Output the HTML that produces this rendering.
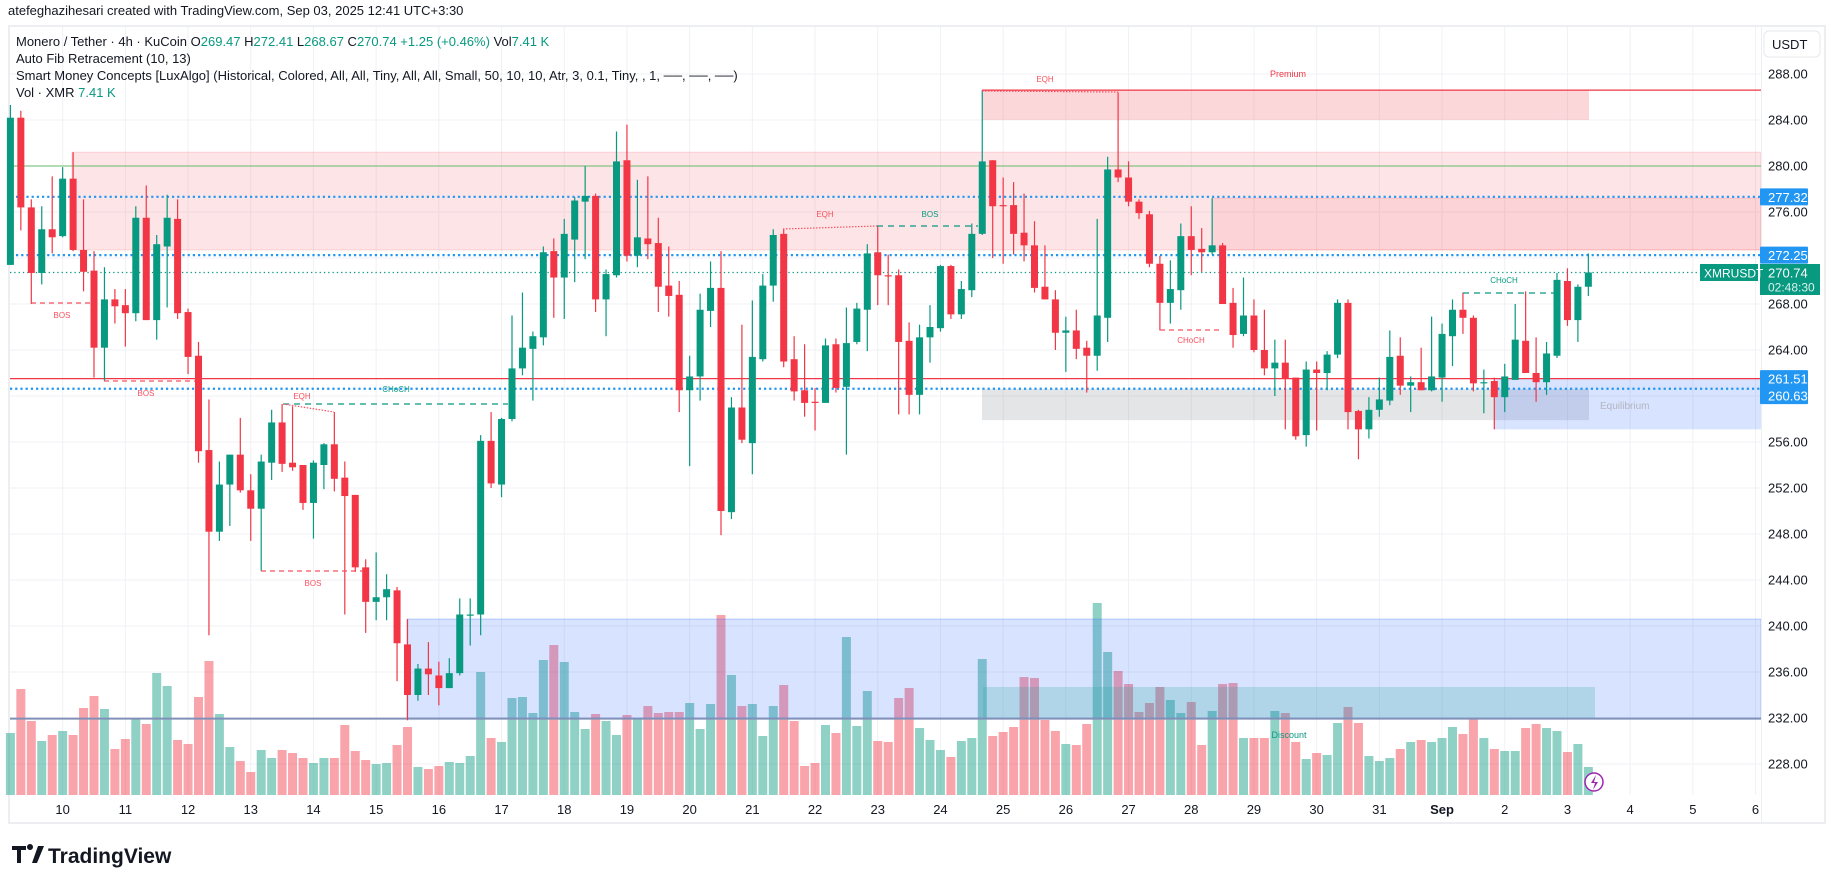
<!DOCTYPE html>
<html><head><meta charset="utf-8"><title>XMRUSDT 4h</title>
<style>
html,body{margin:0;padding:0;background:#fff;}
body{width:1835px;height:883px;overflow:hidden;font-family:"Liberation Sans",sans-serif;}
svg{display:block}
</style></head>
<body>
<svg id="chart" width="1835" height="883" viewBox="0 0 1835 883" xmlns="http://www.w3.org/2000/svg" font-family="Liberation Sans, sans-serif">
  <rect x="0" y="0" width="1835" height="883" fill="#ffffff"/>
  <text x="8" y="15" font-size="13" fill="#131722">atefeghazihesari created with TradingView.com, Sep 03, 2025 12:41 UTC+3:30</text>
  <rect x="9" y="26" width="1816" height="797" fill="none" stroke="#eceef2" stroke-width="2"/>
  <g id="grid"></g>
  <g id="zones"></g>
  <g id="vol"></g>
  <g id="zones2"></g>
  <g id="lines"></g>
  <g id="candles"></g>
  <g id="smc"></g>
  <g id="axes"></g>
  <g font-size="13">
    <text x="16" y="46" fill="#131722">Monero / Tether · 4h · KuCoin <tspan fill="#131722">O</tspan><tspan fill="#089981">269.47</tspan> <tspan fill="#131722">H</tspan><tspan fill="#089981">272.41</tspan> <tspan fill="#131722">L</tspan><tspan fill="#089981">268.67</tspan> <tspan fill="#131722">C</tspan><tspan fill="#089981">270.74 +1.25 (+0.46%)</tspan> <tspan fill="#131722">Vol</tspan><tspan fill="#089981">7.41 K</tspan></text>
    <text x="16" y="63" fill="#131722">Auto Fib Retracement (10, 13)</text>
    <text x="16" y="80" fill="#131722">Smart Money Concepts [LuxAlgo] (Historical, Colored, All, All, Tiny, All, All, Small, 50, 10, 10, Atr, 3, 0.1, Tiny, , 1, ──, ──, ──)</text>
    <text x="16" y="97" fill="#131722">Vol · XMR <tspan fill="#089981">7.41 K</tspan></text>
  </g>
  <g>
    <path d="M12 846 h14 v4 h-5 v13 h-4 v-13 h-5z M30 850 a3 3 0 1 1 0.01 0z M38 846 h6 l-7 17 h-5z" fill="#131722"/>
    <text x="48" y="863" font-size="21" font-weight="bold" fill="#131722">TradingView</text>
  </g>
</svg>
<script>
const opens=[271.4,284.2,276.4,270.7,274.5,273.9,278.9,272.7,270.9,264.2,268.4,267.9,267.2,275.5,266.6,273.0,275.4,267.3,263.5,255.3,248.2,252.3,254.9,251.8,250.2,254.2,257.7,254.2,254.0,250.7,254.0,255.8,252.9,251.4,245.1,242.1,242.5,243.1,238.4,234.0,236.3,235.7,234.6,235.9,240.9,241.0,256.1,252.3,258.0,262.4,264.1,265.1,272.6,270.3,273.6,276.9,277.4,268.4,270.5,280.5,272.2,273.7,273.3,269.6,268.8,260.5,261.7,267.4,269.4,249.9,259.0,255.9,263.2,269.6,274.1,263.2,260.5,259.5,259.4,264.5,260.8,264.7,267.5,272.5,270.5,270.5,264.8,260.1,265.1,265.9,271.3,267.1,269.2,274.1,280.5,276.6,276.6,274.2,273.1,269.5,268.4,265.5,265.7,264.2,263.5,266.8,279.7,279.0,276.9,275.8,271.5,268.1,269.2,273.9,272.8,272.5,273.1,268.1,265.4,267.0,264.0,262.4,262.9,261.6,256.6,262.3,262.0,263.6,268.1,258.7,257.1,258.8,259.6,263.5,260.9,261.2,260.5,261.6,265.2,267.5,266.8,261.1,261.3,259.9,261.4,264.8,262.0,261.2,263.5,270.0,266.6,269.5];
const highs=[285.3,284.8,277.1,276.5,279.1,279.9,281.2,277.1,272.6,271.2,269.3,269.3,276.5,278.3,274.0,277.5,277.1,267.6,264.7,259.7,254.3,254.9,258.1,253.2,254.9,258.8,259.3,259.1,254.0,254.4,255.9,258.6,254.3,251.4,245.8,246.4,244.5,243.4,240.6,236.7,238.6,236.9,237.2,242.4,242.4,256.6,258.6,258.1,267.0,269.0,265.6,273.0,273.7,275.4,277.3,280.0,277.6,271.0,283.0,283.6,278.8,279.1,275.5,273.0,270.0,263.5,268.9,271.7,272.6,259.9,266.2,268.3,270.6,274.5,274.5,265.2,264.5,260.7,265.0,265.0,267.7,268.1,273.2,274.8,272.3,271.0,266.4,266.2,267.9,271.4,271.4,270.0,275.0,286.6,280.5,279.0,278.6,277.6,275.2,273.1,269.2,266.9,267.5,264.8,275.4,280.8,286.4,280.4,277.1,276.1,272.2,271.8,275.0,276.5,274.6,277.2,273.3,269.4,270.3,268.4,267.5,264.9,264.9,261.6,263.0,263.0,263.9,268.4,268.4,258.8,259.9,261.6,265.7,265.1,261.7,264.2,266.9,266.3,268.4,269.0,267.0,262.3,261.6,262.8,268.0,269.1,265.1,264.7,270.7,271.1,269.7,272.4];
const lows=[271.4,274.4,268.0,269.7,272.4,273.8,272.6,269.1,261.6,261.3,266.3,264.3,266.5,266.6,264.9,267.7,266.7,261.9,254.2,239.2,247.4,248.7,251.6,247.4,244.8,252.7,253.4,253.5,250.1,247.6,251.9,251.7,241.0,244.7,239.4,240.5,240.5,235.2,231.8,233.5,234.0,233.1,234.6,235.7,238.3,239.2,252.0,251.2,257.8,261.8,259.6,264.4,266.8,266.7,269.9,271.9,267.3,265.2,270.3,271.7,271.2,271.9,267.3,266.9,258.6,253.9,259.6,266.0,247.9,249.3,255.9,253.2,263.0,268.2,262.5,259.6,258.2,257.0,259.4,260.3,254.9,264.5,263.9,267.9,267.9,258.4,258.4,258.4,262.9,265.6,266.7,266.7,268.6,274.0,272.0,271.5,272.3,271.7,269.0,268.4,264.0,262.1,263.2,260.3,262.2,264.7,278.6,276.5,275.4,271.2,265.7,266.3,267.5,270.5,270.8,272.3,268.0,264.2,265.2,263.8,261.8,260.0,257.1,256.2,255.6,257.0,260.5,263.3,257.1,254.5,256.3,258.2,259.2,260.1,258.6,260.5,260.4,259.5,262.6,265.4,260.4,258.5,257.1,258.6,261.4,262.0,259.5,260.1,263.3,266.1,264.7,268.7];
const closes=[284.2,276.4,270.7,274.5,273.8,278.9,272.7,270.8,264.2,268.4,267.8,267.2,275.5,266.6,273.2,275.5,267.2,263.4,255.2,248.2,252.3,254.9,251.8,250.2,254.3,257.7,254.1,253.8,250.7,254.2,255.8,252.8,251.3,245.1,242.1,242.5,243.2,238.5,234.0,236.3,235.8,234.6,235.9,241.0,241.0,256.1,252.4,258.0,262.4,264.2,265.2,272.5,270.3,274.1,277.0,277.4,268.4,270.6,280.4,272.2,273.8,273.2,269.5,268.7,260.5,261.7,267.5,269.4,250.0,259.0,256.2,263.4,269.6,274.0,263.0,260.4,259.4,259.4,264.4,260.7,264.6,267.6,272.4,270.5,270.4,264.7,260.1,265.1,266.0,271.3,267.1,269.3,274.1,280.4,276.5,276.5,274.1,273.1,269.4,268.4,265.5,265.7,264.1,263.5,267.0,279.7,279.0,276.9,275.9,271.5,268.1,269.3,273.9,272.7,272.5,273.1,268.0,265.3,267.0,264.0,262.4,262.9,261.5,256.5,262.3,262.0,263.6,268.1,258.6,257.1,258.8,259.7,263.4,260.9,261.2,260.5,261.7,265.4,267.5,266.8,261.1,261.2,259.9,261.7,264.9,262.0,261.2,263.7,270.1,266.6,269.5,270.74];
const volumes=[62,106,74,54,60,64,60,87,99,86,46,56,76,71,122,109,55,51,98,134,81,48,34,23,45,37,45,42,37,32,37,37,70,44,35,31,32,50,68,28,26,29,33,32,39,123,57,53,97,98,82,135,150,133,83,66,81,74,60,80,76,89,82,83,83,92,66,91,180,120,89,91,59,89,110,74,29,32,70,62,158,69,104,54,53,97,107,67,55,45,38,54,57,136,59,63,68,118,117,75,64,51,50,71,192,143,124,111,83,92,108,95,82,93,50,84,111,112,57,57,57,84,82,53,36,42,40,72,88,72,39,34,37,46,53,55,53,57,68,61,76,57,46,44,44,67,71,67,64,43,51,28];
const priceTicks=[288,284,280,276,272,268,264,260,256,252,248,244,240,236,232,228];
const dayLabels=['10','11','12','13','14','15','16','17','18','19','20','21','22','23','24','25','26','27','28','29','30','31','Sep','2','3','4','5','6'];
const markedPrices=[277.32,272.25,261.51,260.63];
const lastPrice=270.74;

const NS='http://www.w3.org/2000/svg';
const PANE_L=10, PANE_R=1761, PANE_T=27, PANE_B=822, VOL_BASE=795;
const xOf=i=>10.4+10.45*i;
const yOf=p=>74+(288-p)*11.5;
const vOf=v=>VOL_BASE-v*1.0;
function mk(parent,tag,attrs,text){const e=document.createElementNS(NS,tag);for(const k in attrs)e.setAttribute(k,attrs[k]);if(text!==undefined)e.textContent=text;document.getElementById(parent).appendChild(e);return e;}

// grid
priceTicks.forEach(p=>{
  const l=mk('grid','line',{x1:PANE_L,x2:PANE_R,y1:yOf(p),y2:yOf(p),stroke:'#f0f1f4','stroke-width':1});
  
  
});
dayLabels.forEach((d,k)=>{
  const x=xOf(5+6*k);
  const l=mk('grid','line',{x1:x,x2:x,y1:PANE_T,y2:VOL_BASE,stroke:'#f0f1f4','stroke-width':1});
  
  
});

// zones (behind volume)
function zone(g,name,x1,p1,x2,p2,fill,stroke){
  const y1=yOf(p1),y2=yOf(p2);
  const r=mk(g,'rect',{x:x1,y:Math.min(y1,y2),width:x2-x1,height:Math.abs(y2-y1),fill:fill});
  if(stroke){r.setAttribute('stroke',stroke);r.setAttribute('stroke-width','1');}
  
  
  return r;
}
zone('zones','supply-zone',72,281.2,PANE_R,272.7,'rgba(242,54,69,0.13)','rgba(242,54,69,0.18)');
zone('zones','supply-zone-inner',1212,277.2,PANE_R,272.7,'rgba(242,54,69,0.10)','rgba(242,54,69,0.15)');
zone('zones','premium-zone',982,286.6,1589,284.0,'rgba(242,54,69,0.20)');
zone('zones','equilibrium-zone',982,260.6,1589,257.9,'rgba(120,123,134,0.2)');
zone('zones','equilibrium-blue-zone',1494,261.51,PANE_R,257.1,'rgba(41,98,255,0.18)');

// volume bars
volumes.forEach((v,i)=>{
  const up=closes[i]>=opens[i];
  const b=mk('vol','rect',{x:xOf(i)-4.5,y:vOf(v),width:9,height:VOL_BASE-vOf(v),fill:up?'rgba(8,153,129,0.45)':'rgba(242,54,69,0.45)'});
  
  
});

// discount zones over volume
zone('zones2','discount-zone',407,240.6,PANE_R,232.0,'rgba(41,98,255,0.18)','rgba(41,98,255,0.3)');
zone('zones2','discount-inner-zone',983,234.7,1595,232.0,'rgba(38,166,154,0.22)');
{const l=mk('zones2','line',{x1:PANE_L,x2:PANE_R,y1:yOf(231.95),y2:yOf(231.95),stroke:'#8190b8','stroke-width':2});

}

// level lines
function hline(name,p,x1,stroke,w,dash){
  const l=mk('lines','line',{x1:x1,x2:PANE_R,y1:yOf(p),y2:yOf(p),stroke:stroke,'stroke-width':w});
  if(dash)l.setAttribute('stroke-dasharray',dash);
  
  
}
hline('fib-level-280',280,13,'#66bb6a',1);
hline('level-277-32',markedPrices[0],16,'#2196f3',2.2,'2.2 3');
hline('level-272-25',markedPrices[1],16,'#2196f3',2.2,'2.2 3');
hline('last-price-line',lastPrice,10,'#089981',1.3,'1.3 3');
hline('level-261-51',markedPrices[2],10,'#f23645',1.3);
hline('level-260-63',markedPrices[3],10,'#2196f3',2.2,'2.2 3');
hline('premium-top-line',286.6,982,'#f23645',1.3);

// candles
opens.forEach((o,i)=>{
  const c=closes[i],up=c>=o,col=up?'#089981':'#f23645',x=xOf(i);
  const w=mk('candles','line',{x1:x,x2:x,y1:yOf(highs[i]),y2:yOf(lows[i]),stroke:col,'stroke-width':1.2});
  
  
  const top=yOf(Math.max(o,c)),bot=yOf(Math.min(o,c));
  const b=mk('candles','rect',{x:x-3.5,y:top,width:7,height:Math.max(1.2,bot-top),fill:col});
  
  
});

// structure labels
function seg(name,x1,y1,x2,y2,col,dash){
  const l=mk('smc','line',{x1:x1,y1:y1,x2:x2,y2:y2,stroke:col,'stroke-width':1.2,'stroke-dasharray':dash});
  
  
}
function lab(name,x,y,t,col){
  const e=mk('smc','text',{x:x,y:y,'font-size':8,fill:col,'text-anchor':'middle'},t);
  
  
}
const RD='#f7525f',TL='#089981';
seg('bos-line-1',31,303,90,303,RD,'5 4');lab('bos-label-1',62,318,'BOS',RD);
seg('bos-line-2',104,381,195,381,RD,'5 4');lab('bos-label-2',146,396,'BOS',RD);
seg('choch-line-1',283,404,508,404,TL,'6 5');lab('choch-label-1',396,392,'CHoCH',TL);
seg('eqh-line-1',283,404,334,412,RD,'1.5 1.5');lab('eqh-label-1',302,399,'EQH',RD);
seg('bos-line-3',261,571,363,571,RD,'5 4');lab('bos-label-3',313,586,'BOS',RD);
seg('eqh-line-2',783,229,877,226,RD,'1.5 1.5');lab('eqh-label-2',825,217,'EQH',RD);
seg('bos-line-4',877,226,978,226,TL,'6 5');lab('bos-label-4',930,217,'BOS',TL);
seg('eqh-line-3',982,91,1118,92,RD,'1.5 1.5');lab('eqh-label-3',1045,82,'EQH',RD);
seg('choch-line-2',1160,330,1219,330,RD,'5 4');lab('choch-label-2',1191,343,'CHoCH',RD);
seg('choch-line-3',1463,293,1555,293,TL,'6 5');lab('choch-label-3',1504,283,'CHoCH',TL);
{const e=mk('smc','text',{x:1288,y:77,'font-size':9,fill:'#f23645','text-anchor':'middle'},'Premium');

}
{const e=mk('smc','text',{x:1289,y:738,'font-size':9,fill:'#089981','text-anchor':'middle'},'Discount');

}
{const e=mk('smc','text',{x:1600,y:409,'font-size':10,fill:'#b2b5be'},'Equilibrium');

}
{const c=mk('smc','circle',{cx:1594,cy:782,r:9,fill:'#fff',stroke:'#9c27b0','stroke-width':1.5});


const p=mk('smc','path',{d:'M1596 775 l-5 8 h4 l-2 7 l5 -8 h-4z',fill:'#9c27b0'});

}

// axes
{const l=mk('axes','line',{x1:PANE_R+0.5,x2:PANE_R+0.5,y1:PANE_T,y2:PANE_B,stroke:'#eceef2','stroke-width':1});

}
{const r=mk('axes','rect',{x:1764,y:31,width:56,height:26,rx:5,fill:'#fff',stroke:'#e6e8ee'});


const t=mk('axes','text',{x:1772,y:49,'font-size':13,fill:'#131722'},'USDT');

}
priceTicks.forEach(p=>{
  const t=mk('axes','text',{x:1768,y:yOf(p)+4.5,'font-size':13,fill:'#131722'},p.toFixed(2));
  
  
});
dayLabels.forEach((d,k)=>{
  const t=mk('axes','text',{x:xOf(5+6*k),y:814,'font-size':13,fill:'#131722','text-anchor':'middle','font-weight':d==='Sep'?'bold':'normal'},d);
  
  
});
function tag(name,y,h,fill,lines){
  const r=mk('axes','rect',{x:1760,y:y,width:48,height:h,fill:fill,rx:1});
  
  
  lines.forEach((s,j)=>{
    const t=mk('axes','text',{x:1768,y:y+13.5+j*17,'font-size':13,fill:'#fff'},s);
    
    
  });
}
tag('price-tag-277',yOf(markedPrices[0])-8.5,17,'#2196f3',[markedPrices[0].toFixed(2)]);
tag('price-tag-272',yOf(markedPrices[1])-8.5,17,'#2196f3',[markedPrices[1].toFixed(2)]);
tag('price-tag-261',yOf(markedPrices[2])-8.5,34,'#2196f3',[markedPrices[2].toFixed(2),markedPrices[3].toFixed(2)]);
{const r=mk('axes','rect',{x:1760,y:yOf(lastPrice)-8.5,width:60,height:31,fill:'#089981'});


const t1=mk('axes','text',{x:1768,y:yOf(lastPrice)+5,'font-size':13,fill:'#fff'},lastPrice.toFixed(2));


const t2=mk('axes','text',{x:1768,y:yOf(lastPrice)+19,'font-size':12,fill:'#d8f0ec'},'02:48:30');


const r2=mk('axes','rect',{x:1700,y:yOf(lastPrice)-8.5,width:58,height:17,fill:'#089981'});


const t3=mk('axes','text',{x:1704,y:yOf(lastPrice)+5,'font-size':12,fill:'#fff'},'XMRUSDT');

}
</script>
</body></html>
